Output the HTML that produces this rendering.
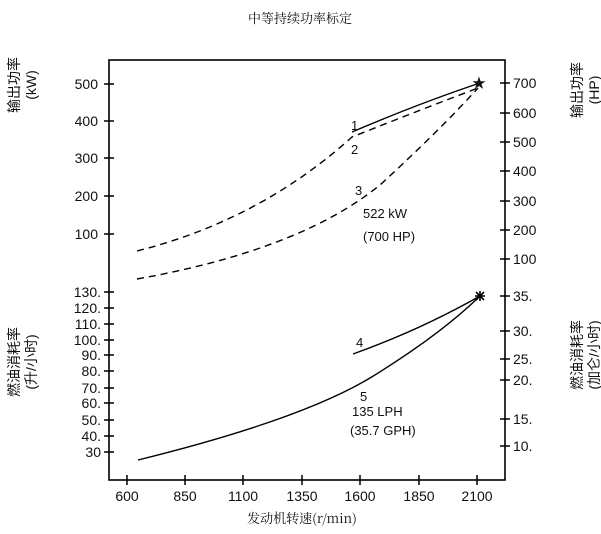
<!DOCTYPE html>
<html><head><meta charset="utf-8"><style>
body{margin:0;background:#fff}
svg{display:block}
text{font-family:"Liberation Sans","Noto Sans CJK SC",sans-serif;fill:#111}
.c{font-family:"Noto Serif CJK SC","Noto Sans CJK SC",serif}
</style></head><body>
<svg width="601" height="534" viewBox="0 0 601 534" xmlns="http://www.w3.org/2000/svg">
<text x="300" y="23" font-size="13" text-anchor="middle" class="c">中等持续功率标定</text>
<rect x="109" y="60" width="396" height="420" fill="none" stroke="#000" stroke-width="1.6"/>
<g stroke="#000" stroke-width="1.5">
<path d="M104 84h10M104 121h10M104 158h10M104 196h10M104 234h10M104 292h10M104 308h10M104 324h10M104 340h10M104 355h10M104 371h10M104 388h10M104 403h10M104 420h10M104 436h10M104 452h10"/>
<path d="M500 83h10M500 113h10M500 142h10M500 171h10M500 201h10M500 230h10M500 259h10M500 296h10M500 331h10M500 359h10M500 380h10M500 419h10M500 446h10"/>
<path d="M127 475v10M185 475v10M243 475v10M302 475v10M360 475v10M419 475v10M477 475v10"/>
</g>
<g font-size="14" text-anchor="end">
<text x="98" y="89">500</text><text x="98" y="126">400</text><text x="98" y="163">300</text><text x="98" y="201">200</text><text x="98" y="239">100</text>
<text x="101" y="297">130.</text><text x="101" y="313">120.</text><text x="101" y="329">110.</text><text x="101" y="345">100.</text><text x="101" y="360">90.</text><text x="101" y="376">80.</text><text x="101" y="393">70.</text><text x="101" y="408">60.</text><text x="101" y="425">50.</text><text x="101" y="441">40.</text><text x="101" y="457">30</text>
</g>
<g font-size="14">
<text x="513" y="88">700</text><text x="513" y="118">600</text><text x="513" y="147">500</text><text x="513" y="176">400</text><text x="513" y="206">300</text><text x="513" y="235">200</text><text x="513" y="264">100</text>
<text x="513" y="301">35.</text><text x="513" y="336">30.</text><text x="513" y="364">25.</text><text x="513" y="385">20.</text><text x="513" y="424">15.</text><text x="513" y="451">10.</text>
</g>
<g font-size="14" text-anchor="middle">
<text x="127" y="501">600</text><text x="185" y="501">850</text><text x="243" y="501">1100</text><text x="302" y="501">1350</text><text x="360" y="501">1600</text><text x="419" y="501">1850</text><text x="477" y="501">2100</text>
</g>
<text x="302" y="523" font-size="13" text-anchor="middle" class="c">发动机转速(r/min)</text>
<g font-size="14" class="c" text-anchor="middle">
<text transform="translate(19,85) rotate(-90)">输出功率</text>
<text transform="translate(36,85) rotate(-90)">(kW)</text>
<text transform="translate(19,362) rotate(-90)">燃油消耗率</text>
<text transform="translate(36,362) rotate(-90)">(升/小时)</text>
<text transform="translate(582,90) rotate(-90)">输出功率</text>
<text transform="translate(599,90) rotate(-90)">(HP)</text>
<text transform="translate(582,355) rotate(-90)">燃油消耗率</text>
<text transform="translate(599,355) rotate(-90)">(加仑/小时)</text>
</g>
<g fill="none" stroke="#000" stroke-width="1.4">
<path d="M352 132 Q420 103 480 83"/>
<path d="M137 251 Q260 220 352 137 Q420 110 478 88" stroke-dasharray="7,5"/>
<path d="M137 279 Q300 250 380 185 Q440 130 478 88" stroke-dasharray="7,5"/>
<path d="M353 354 Q420 330 480 296"/>
<path d="M138 460 Q300 420 370 378 Q440 335 480 296"/>
</g>
<text x="479" y="88" font-size="14" text-anchor="middle">★</text>
<g stroke="#000" stroke-width="1.6"><path d="M475 296h10M480 291v10M476 292l8 8M484 292l-8 8"/></g>
<g font-size="13">
<text x="351" y="130">1</text><text x="351" y="154">2</text><text x="355" y="195">3</text>
<text x="363" y="218">522 kW</text><text x="363" y="241">(700 HP)</text>
<text x="356" y="347">4</text><text x="360" y="401">5</text>
<text x="352" y="416">135 LPH</text><text x="350" y="435">(35.7 GPH)</text>
</g>
</svg>
</body></html>
